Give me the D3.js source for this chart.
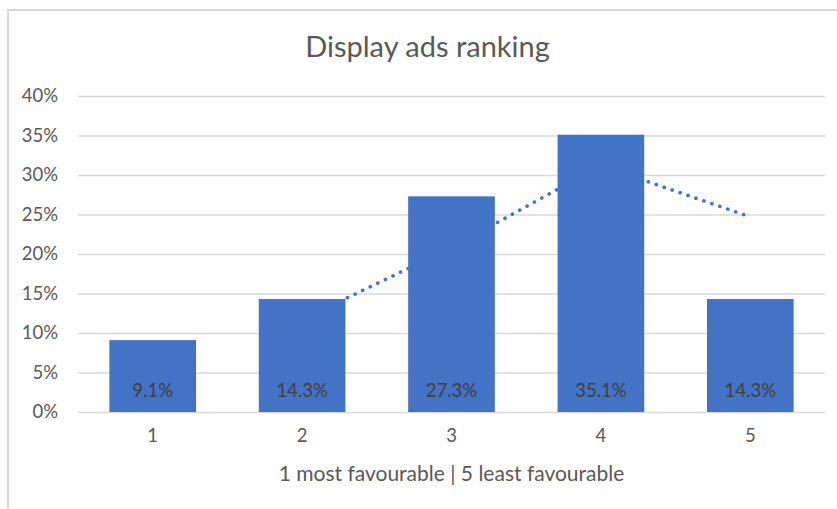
<!DOCTYPE html>
<html>
<head>
<meta charset="utf-8">
<script src="https://cdn.jsdelivr.net/npm/d3@7"></script>
<style>
  html, body { margin: 0; padding: 0; background: #fff; }
  svg text { font-family: Lato, "Open Sans", sans-serif; }
</style>
</head>
<body>
<div id="chart"></div>
<script>
const categories = ['1', '2', '3', '4', '5'];
const shares = [9.1, 14.3, 27.3, 35.1, 14.3];
// 2-period moving average trendline
const trend = [null, 11.7, 20.8, 31.2, 24.7];
const yTicks = [0, 5, 10, 15, 20, 25, 30, 35, 40];
const title = 'Display ads ranking';
const xTitle = '1 most favourable | 5 least favourable';

const width = 837, height = 509;
const margin = {top: 96, right: 12, bottom: 97, left: 78};
const blue = '#4472C4', grey = '#595959';

const svg = d3.select('#chart').append('svg')
    .attr('width', width)
    .attr('height', height);

// chart frame (only top and left edges are in view)
svg.append('path')
    .attr('d', 'M8,509 V10 H837')
    .attr('fill', 'none')
    .attr('stroke', '#d9d9d9')
    .attr('stroke-width', 2);

let x = d3.scaleBand()
    .domain(categories)
    .range([margin.left, width - margin.right])
    .paddingInner(0.42)
    .paddingOuter(0.21);

let y = d3.scaleLinear()
    .domain([0, 40])
    .range([height - margin.bottom, margin.top]);

// gridlines + y labels
let yAxis = svg.append('g')
    .attr('transform', `translate(${margin.left},0)`)
    .call(d3.axisLeft(y).tickValues(yTicks)
        .tickSize(-(width - margin.left - margin.right))
        .tickPadding(20)
        .tickFormat(d => d + '%'));
yAxis.select('.domain').remove();
yAxis.selectAll('line').attr('stroke', '#d9d9d9').attr('stroke-width', 1.5);
yAxis.selectAll('text')
    .attr('fill', grey)
    .style('font-size', '18.5px');

// trendline sits behind the bars
let line = d3.line()
    .defined(d => d != null)
    .x((d, i) => x(categories[i]) + x.bandwidth() / 2)
    .y(d => y(d));

svg.append('path')
    .datum(trend)
    .attr('d', line)
    .attr('fill', 'none')
    .attr('stroke', blue)
    .attr('stroke-width', 3.6)
    .attr('stroke-linecap', 'round')
    .attr('stroke-dasharray', '0.1 8.3');

svg.append('g').selectAll('rect')
    .data(shares)
    .join('rect')
    .attr('x', (d, i) => x(categories[i]))
    .attr('y', d => y(d))
    .attr('width', x.bandwidth())
    .attr('height', d => y(0) - y(d))
    .attr('fill', blue);

// data labels at the inside base
svg.append('g').selectAll('text')
    .data(shares)
    .join('text')
    .attr('x', (d, i) => x(categories[i]) + x.bandwidth() / 2)
    .attr('y', y(0) - 15)
    .attr('text-anchor', 'middle')
    .attr('fill', '#404040')
    .style('font-size', '18.5px')
    .text(d => d.toFixed(1) + '%');

// x axis
let xAxis = svg.append('g')
    .attr('transform', `translate(0,${y(0)})`)
    .call(d3.axisBottom(x).tickSize(0).tickPadding(17));
xAxis.select('.domain').remove();
xAxis.selectAll('text')
    .attr('fill', grey)
    .style('font-size', '18.5px');

svg.append('text')
    .attr('x', (margin.left + width - margin.right) / 2)
    .attr('y', 481)
    .attr('text-anchor', 'middle')
    .attr('fill', grey)
    .style('font-size', '21px')
    .text(xTitle);

svg.append('text')
    .attr('x', (margin.left + width - margin.right) / 2 - 24)
    .attr('y', 57)
    .attr('text-anchor', 'middle')
    .attr('fill', grey)
    .style('font-size', '29px')
    .text(title);
</script>
</body>
</html>
